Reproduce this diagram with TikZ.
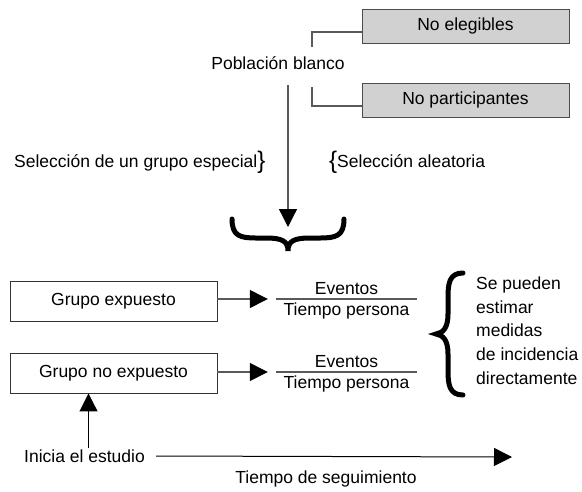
\documentclass[tikz,border=0pt]{standalone}
\usepackage{fontspec}
\setmainfont{Liberation Sans}
\usetikzlibrary{arrows.meta}

\tikzset{
  txt/.style={inner sep=1pt, font=\fontsize{17.5}{20}\selectfont},
  fractxt/.style={txt, inner ysep=4pt},
  greybox/.style={txt, draw=black!70, fill=black!18, line width=0.9pt,
    minimum width=207pt, minimum height=34pt},
  groupbox/.style={txt, draw=black!80, fill=white, line width=0.9pt,
    minimum width=207pt, minimum height=40pt},
  link/.style={draw=black!65, line width=1.3pt},
  arr/.style={link, -{Triangle[length=18pt, width=18pt, color=black]}},
  bigbrace/.style={line width=5pt, line cap=round}
}
\newcommand{\tallbrace}[1]{{\fontsize{24}{24}\selectfont\raisebox{-1pt}{#1}}}

\begin{document}
\begin{tikzpicture}[x=1pt, y=-1pt]
  \useasboundingbox (0,0) rectangle (582,491);

  % top: target population and exclusions
  \node[txt] (pob) at (278,63) {Población blanco};
  \node[greybox] (noeleg) at (465.5,26) {No elegibles};
  \node[greybox] (nopart) at (465.5,100) {No participantes};
  \coordinate (pobtop) at (312,47);
  \coordinate (pobbot) at (312,87);
  \draw[link] (pobtop) |- ([yshift=-6pt]noeleg.west);
  \draw[link] (pobbot) |- ([yshift=-6pt]nopart.west);

  % selection
  \node[txt, anchor=west] (selesp) at (13,162) {Selección de un grupo especial\tallbrace{\}}};
  \node[txt, anchor=west] (selale) at (328,162) {\tallbrace{\{}Selección aleatoria};
  \coordinate (pobout) at (288,85);
  \coordinate (selin) at (288,227);
  \draw[arr] (pobout) -- (selin);
  \draw[bigbrace] (232,219) .. controls (232,236) and (240,238) .. (256,238)
    -- (266,238) .. controls (282,238) and (288,241) .. (288,251)
    .. controls (288,241) and (294,238) .. (310,238)
    -- (320,238) .. controls (336,238) and (344,236) .. (344,219);

  % groups
  \node[groupbox] (gexp) at (113.5,301) {Grupo expuesto};
  \node[groupbox] (gnoexp) at (113.5,373) {Grupo no expuesto};

  \node[fractxt, anchor=north, minimum width=141pt] (tp1) at (346.5,299) {Tiempo persona};
  \node[fractxt, anchor=south] (ev1) at (tp1.north) {Eventos};
  \draw[link] (tp1.north west) -- (tp1.north east);
  \draw[arr] (gexp.east |- tp1.north) -- ([xshift=-8pt]tp1.north west);

  \node[fractxt, anchor=north, minimum width=141pt] (tp2) at (346.5,372) {Tiempo persona};
  \node[fractxt, anchor=south] (ev2) at (tp2.north) {Eventos};
  \draw[link] (tp2.north west) -- (tp2.north east);
  \draw[arr] (gnoexp.east |- tp2.north) -- ([xshift=-8pt]tp2.north west);

  \draw[bigbrace] (463,273) .. controls (449,273) and (448,284) .. (448,298)
    -- (448,314) .. controls (448,328) and (443,333) .. (436,334)
    .. controls (443,335) and (448,340) .. (448,354)
    -- (448,370) .. controls (448,384) and (449,395) .. (463,395);
  \node[txt, anchor=west, align=left, font=\fontsize{17.5}{23.7}\selectfont] (medidas) at (475,330.5)
    {Se pueden\\estimar\\medidas\\de incidencia\\directamente};

  % follow-up time line
  \node[txt, anchor=west] (ini) at (23,456) {Inicia el estudio};
  \coordinate (fin) at (512,457);
  \draw[arr, draw=black, line width=1pt] ([xshift=10pt]ini.east) -- (fin);
  \draw[arr, draw=black, line width=1pt] ([xshift=4pt]ini.north) -- ([xshift=4pt]ini.north |- gnoexp.south);
  \node[txt] (seg) at (326,479) {Tiempo de seguimiento};
\end{tikzpicture}
\end{document}
